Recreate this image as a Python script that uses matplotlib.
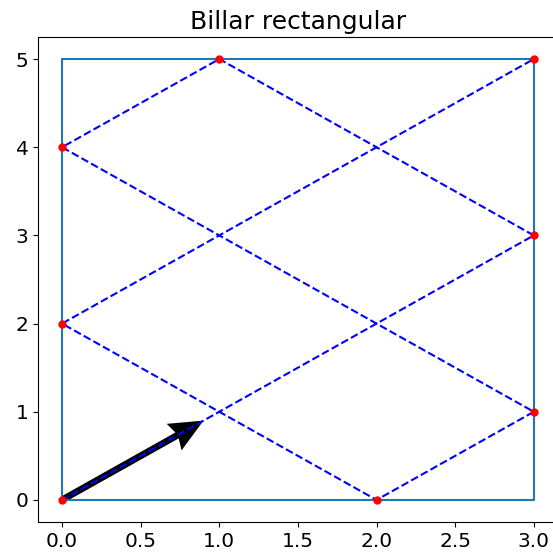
import numpy as np
import matplotlib.pyplot as plt

# Mesa rectangular y puntos de rebote
ancho, alto = 3, 5
borde_x = [0, ancho, ancho, 0, 0]
borde_y = [0, 0, alto, alto, 0]
rebote_x = [0, 3, 1, 0, 3, 2, 0, 3]
rebote_y = [0, 3, 5, 4, 1, 0, 2, 5]
# Vector de velocidad inicial
v0 = [0.9, 0.9]

fig = plt.figure(figsize=(5.53, 5.52), dpi=100)
ax = fig.add_axes([38.4 / 553, 30 / 552, 519 / 553, 485 / 552])

ax.plot(borde_x, borde_y, color='C0', linewidth=1.5)
ax.quiver(0, 0, v0[0], v0[1], angles='xy', scale_units='xy', scale=1,
          color='k', width=0.013, headwidth=4.5, headlength=5, zorder=1.5)
ax.plot(rebote_x, rebote_y, 'b--', linewidth=1.5, zorder=2)
ax.plot(rebote_x, rebote_y, 'ro', markersize=5, zorder=3)

ax.set_title('Billar rectangular', fontsize=18)
ax.tick_params(labelsize=14.5)
ax.set_xlim(-0.15, 3.15)
ax.set_ylim(-0.25, 5.25)

plt.savefig('out.png', dpi=100)
